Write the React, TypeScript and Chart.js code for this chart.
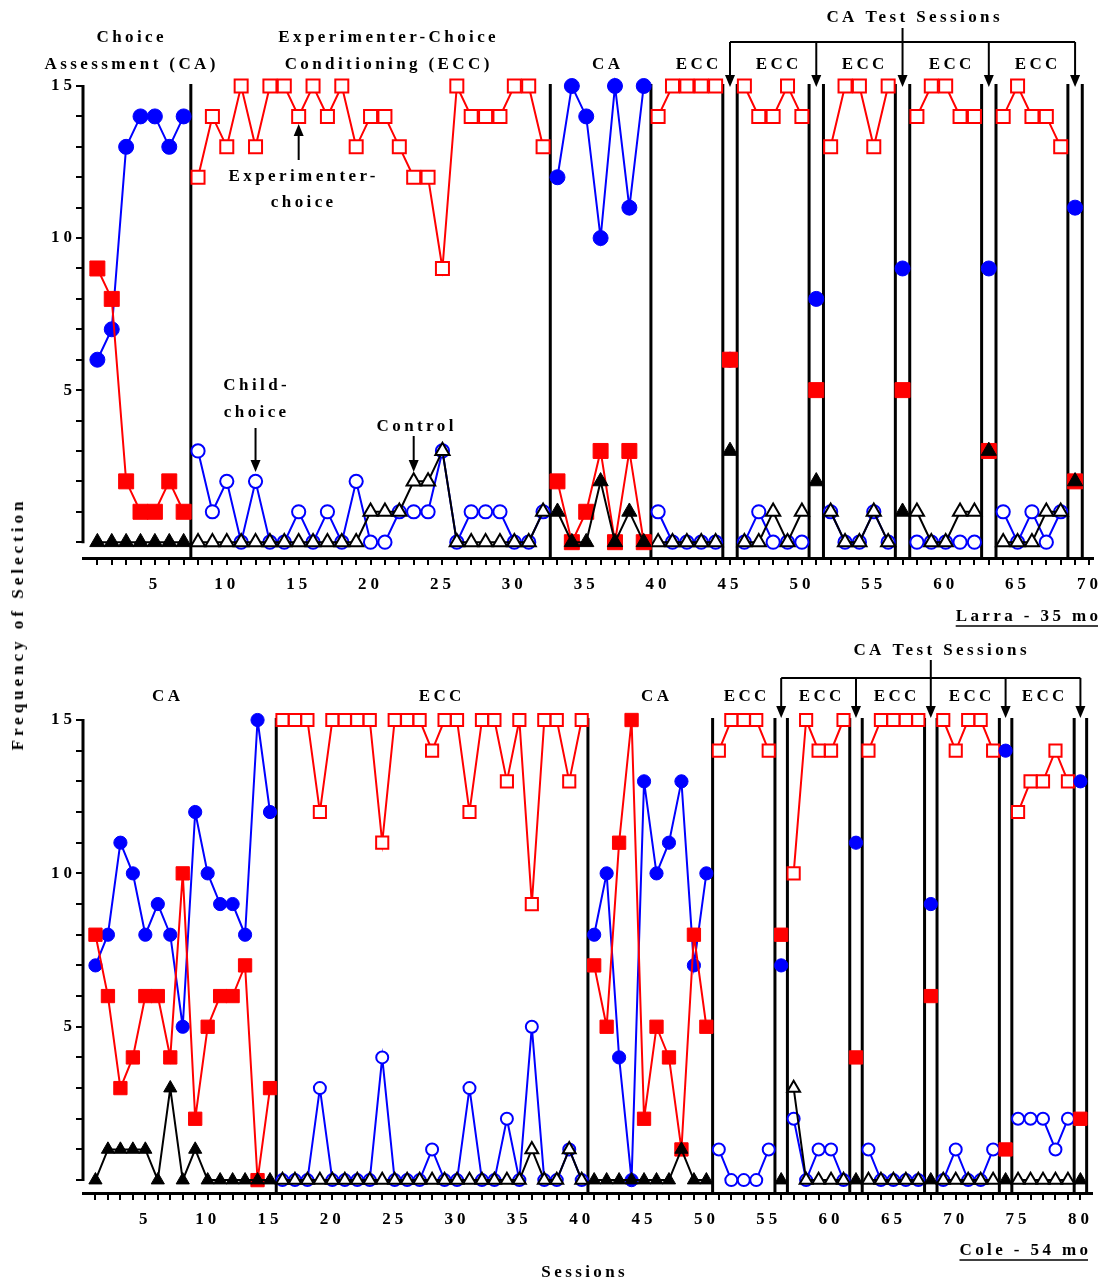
import React, { useEffect, useRef } from "react";
import { Chart, registerables } from "chart.js";

Chart.register(...registerables);

const FONT = "'Liberation Serif', 'Times New Roman', serif";
const BLUE = "#0000ff";
const RED = "#ff0000";
const BLACK = "#000000";

// ===================== Larra - 35 mo (top panel) =====================
// Choice Assessment (CA) phases: item A = blue filled circle, item B = red filled square, control = black filled triangle
const LARRA_CA1_START = 1;
const LARRA_CA1_A = [6, 7, 13, 14, 14, 13, 14];
const LARRA_CA1_B = [9, 8, 2, 1, 1, 2, 1];
const LARRA_CA1_CTRL = [0, 0, 0, 0, 0, 0, 0];
const LARRA_CA2_START = 33;
const LARRA_CA2_A = [12, 15, 14, 10, 15, 11, 15];
const LARRA_CA2_B = [2, 0, 1, 3, 0, 3, 0];
const LARRA_CA2_CTRL = [1, 0, 0, 2, 0, 1, 0];
const LARRA_TEST_SESSIONS = [45, 51, 57, 63, 69];
const LARRA_TEST_A = [6, 8, 9, 9, 11];
const LARRA_TEST_B = [6, 5, 5, 3, 2];
const LARRA_TEST_CTRL = [3, 2, 1, 3, 2];
// ECC phases: experimenter-choice = red open square, child-choice = blue open circle, control = black open triangle
const LARRA_ECC_STARTS = [8, 40, 46, 52, 58, 64];
const LARRA_ECC1_EXP = [12, 14, 13, 15, 13, 15, 15, 14, 15, 14, 15, 13, 14, 14, 13, 12, 12, 9, 15, 14, 14, 14, 15, 15, 13];
const LARRA_ECC1_CHILD = [3, 1, 2, 0, 2, 0, 0, 1, 0, 1, 0, 2, 0, 0, 1, 1, 1, 3, 0, 1, 1, 1, 0, 0, 1];
const LARRA_ECC1_CTRL = [0, 0, 0, 0, 0, 0, 0, 0, 0, 0, 0, 0, 1, 1, 1, 2, 2, 3, 0, 0, 0, 0, 0, 0, 1];
const LARRA_ECC2_EXP = [14, 15, 15, 15, 15];
const LARRA_ECC2_CHILD = [1, 0, 0, 0, 0];
const LARRA_ECC2_CTRL = [0, 0, 0, 0, 0];
const LARRA_ECC3_EXP = [15, 14, 14, 15, 14];
const LARRA_ECC3_CHILD = [0, 1, 0, 0, 0];
const LARRA_ECC3_CTRL = [0, 0, 1, 0, 1];
const LARRA_ECC4_EXP = [13, 15, 15, 13, 15];
const LARRA_ECC4_CHILD = [1, 0, 0, 1, 0];
const LARRA_ECC4_CTRL = [1, 0, 0, 1, 0];
const LARRA_ECC5_EXP = [14, 15, 15, 14, 14];
const LARRA_ECC5_CHILD = [0, 0, 0, 0, 0];
const LARRA_ECC5_CTRL = [1, 0, 0, 1, 1];
const LARRA_ECC6_EXP = [14, 15, 14, 14, 13];
const LARRA_ECC6_CHILD = [1, 0, 1, 0, 1];
const LARRA_ECC6_CTRL = [0, 0, 0, 1, 1];
const LARRA_PHASE_LINES = [7.5, 32.5, 39.5, 44.5, 45.5, 50.5, 51.5, 56.5, 57.5, 62.5, 63.5, 68.5, 69.5];

// ===================== Cole - 54 mo (bottom panel) =====================
const COLE_CA1_START = 1;
const COLE_CA1_A = [7, 8, 11, 10, 8, 9, 8, 5, 12, 10, 9, 9, 8, 15, 12];
const COLE_CA1_B = [8, 6, 3, 4, 6, 6, 4, 10, 2, 5, 6, 6, 7, 0, 3];
const COLE_CA1_CTRL = [0, 1, 1, 1, 1, 0, 3, 0, 1, 0, 0, 0, 0, 0, 0];
const COLE_CA2_START = 41;
const COLE_CA2_A = [8, 10, 4, 0, 13, 10, 11, 13, 7, 10];
const COLE_CA2_B = [7, 5, 11, 15, 2, 5, 4, 1, 8, 5];
const COLE_CA2_CTRL = [0, 0, 0, 0, 0, 0, 0, 1, 0, 0];
const COLE_TEST_SESSIONS = [56, 62, 68, 74, 80];
const COLE_TEST_A = [7, 11, 9, 14, 13];
const COLE_TEST_B = [8, 4, 6, 1, 2];
const COLE_TEST_CTRL = [0, 0, 0, 0, 0];
const COLE_ECC_STARTS = [16, 51, 57, 63, 69, 75];
const COLE_ECC1_EXP = [15, 15, 15, 12, 15, 15, 15, 15, 11, 15, 15, 15, 14, 15, 15, 12, 15, 15, 13, 15, 9, 15, 15, 13, 15];
const COLE_ECC1_CHILD = [0, 0, 0, 3, 0, 0, 0, 0, 4, 0, 0, 0, 1, 0, 0, 3, 0, 0, 2, 0, 5, 0, 0, 1, 0];
const COLE_ECC1_CTRL = [0, 0, 0, 0, 0, 0, 0, 0, 0, 0, 0, 0, 0, 0, 0, 0, 0, 0, 0, 0, 1, 0, 0, 1, 0];
const COLE_ECC2_EXP = [14, 15, 15, 15, 14];
const COLE_ECC2_CHILD = [1, 0, 0, 0, 1];
const COLE_ECC3_EXP = [10, 15, 14, 14, 15];
const COLE_ECC3_CHILD = [2, 0, 1, 1, 0];
const COLE_ECC3_CTRL = [3, 0, 0, 0, 0];
const COLE_ECC4_EXP = [14, 15, 15, 15, 15];
const COLE_ECC4_CHILD = [1, 0, 0, 0, 0];
const COLE_ECC4_CTRL = [0, 0, 0, 0, 0];
const COLE_ECC5_EXP = [15, 14, 15, 15, 14];
const COLE_ECC5_CHILD = [0, 1, 0, 0, 1];
const COLE_ECC5_CTRL = [0, 0, 0, 0, 0];
const COLE_ECC6_EXP = [12, 13, 13, 14, 13];
const COLE_ECC6_CHILD = [2, 2, 2, 1, 2];
const COLE_ECC6_CTRL = [0, 0, 0, 0, 0];
const COLE_PHASE_LINES = [15.5, 40.5, 50.5, 55.5, 56.5, 61.5, 62.5, 67.5, 68.5, 73.5, 74.5, 79.5, 80.5];

// ===================== helpers =====================
type Seg = { start: number; values: number[] };
const seg = (start: number, values: number[]): Seg => ({ start, values });
const singles = (sessions: number[], values: number[]): Seg[] =>
  sessions.map((s, i) => seg(s, [values[i]]));

function toPoints(segs: Seg[]) {
  const out: { x: number; y: number | null }[] = [];
  segs.forEach((s, i) => {
    if (i > 0) out.push({ x: s.start - 0.5, y: null });
    s.values.forEach((v, j) => out.push({ x: s.start + j, y: v }));
  });
  return out;
}

type Txt = { text: string; x: number; y: number; align?: CanvasTextAlign; underline?: boolean };
type Arrow = { session: number; from: number; to: number };
type Bracket = { sessions: number[]; barY: number; tipY: number; stemSession: number; stemTop: number };
type Sizes = { circle: number; square: number; tri: number; oCircle: number; oSquare: number; oTri: number };

interface PanelSpec {
  name: string;
  pageTop: number;
  width: number;
  height: number;
  area: { left: number; right: number; top: number; bottom: number };
  xMax: number;
  yMin: number;
  xTickCount: number;
  filledA: Seg[];
  filledB: Seg[];
  filledCtrl: Seg[];
  openExp: Seg[];
  openChild: Seg[];
  openCtrl: Seg[];
  phaseLines: number[];
  texts: Txt[];
  arrows: Arrow[];
  bracket: Bracket;
  sizes: Sizes;
}

const LARRA_SPEC: PanelSpec = {
  name: "larra",
  pageTop: 0,
  width: 1107,
  height: 640,
  area: { left: 83, right: 1097, top: 86, bottom: 558 },
  xMax: 70.27,
  yMin: -0.52,
  xTickCount: 70,
  filledA: [seg(LARRA_CA1_START, LARRA_CA1_A), seg(LARRA_CA2_START, LARRA_CA2_A), ...singles(LARRA_TEST_SESSIONS, LARRA_TEST_A)],
  filledB: [seg(LARRA_CA1_START, LARRA_CA1_B), seg(LARRA_CA2_START, LARRA_CA2_B), ...singles(LARRA_TEST_SESSIONS, LARRA_TEST_B)],
  filledCtrl: [seg(LARRA_CA1_START, LARRA_CA1_CTRL), seg(LARRA_CA2_START, LARRA_CA2_CTRL), ...singles(LARRA_TEST_SESSIONS, LARRA_TEST_CTRL)],
  openExp: [LARRA_ECC1_EXP, LARRA_ECC2_EXP, LARRA_ECC3_EXP, LARRA_ECC4_EXP, LARRA_ECC5_EXP, LARRA_ECC6_EXP].map((v, i) => seg(LARRA_ECC_STARTS[i], v)),
  openChild: [LARRA_ECC1_CHILD, LARRA_ECC2_CHILD, LARRA_ECC3_CHILD, LARRA_ECC4_CHILD, LARRA_ECC5_CHILD, LARRA_ECC6_CHILD].map((v, i) => seg(LARRA_ECC_STARTS[i], v)),
  openCtrl: [LARRA_ECC1_CTRL, LARRA_ECC2_CTRL, LARRA_ECC3_CTRL, LARRA_ECC4_CTRL, LARRA_ECC5_CTRL, LARRA_ECC6_CTRL].map((v, i) => seg(LARRA_ECC_STARTS[i], v)),
  phaseLines: LARRA_PHASE_LINES,
  texts: [
    { text: "Choice", x: 130, y: 38 },
    { text: "Assessment (CA)", x: 130, y: 65 },
    { text: "Experimenter-Choice", x: 387, y: 38 },
    { text: "Conditioning (ECC)", x: 387, y: 65 },
    { text: "Experimenter-", x: 302, y: 177 },
    { text: "choice", x: 302, y: 203 },
    { text: "Child-", x: 255, y: 386 },
    { text: "choice", x: 255, y: 413 },
    { text: "Control", x: 415, y: 427 },
    { text: "CA", x: 606, y: 65 },
    { text: "ECC", x: 697, y: 65 },
    { text: "ECC", x: 777, y: 65 },
    { text: "ECC", x: 863, y: 65 },
    { text: "ECC", x: 950, y: 65 },
    { text: "ECC", x: 1036, y: 65 },
    { text: "CA Test Sessions", x: 913, y: 18 },
    { text: "Larra - 35 mo", x: 1098, y: 617, align: "right", underline: true },
  ],
  arrows: [
    { session: 15, from: 160, to: 124 },
    { session: 12, from: 428, to: 472 },
    { session: 23, from: 436, to: 472 },
  ],
  bracket: { sessions: LARRA_TEST_SESSIONS, barY: 42, tipY: 87, stemSession: 57, stemTop: 28 },
  sizes: { circle: 7.5, square: 10.6, tri: 8.8, oCircle: 6.6, oSquare: 9.2, oTri: 8.2 },
};

const COLE_SPEC: PanelSpec = {
  name: "cole",
  pageTop: 640,
  width: 1107,
  height: 645,
  area: { left: 83, right: 1092, top: 80, bottom: 553 },
  xMax: 80.93,
  yMin: -0.42,
  xTickCount: 80,
  filledA: [seg(COLE_CA1_START, COLE_CA1_A), seg(COLE_CA2_START, COLE_CA2_A), ...singles(COLE_TEST_SESSIONS, COLE_TEST_A)],
  filledB: [seg(COLE_CA1_START, COLE_CA1_B), seg(COLE_CA2_START, COLE_CA2_B), ...singles(COLE_TEST_SESSIONS, COLE_TEST_B)],
  filledCtrl: [seg(COLE_CA1_START, COLE_CA1_CTRL), seg(COLE_CA2_START, COLE_CA2_CTRL), ...singles(COLE_TEST_SESSIONS, COLE_TEST_CTRL)],
  openExp: [COLE_ECC1_EXP, COLE_ECC2_EXP, COLE_ECC3_EXP, COLE_ECC4_EXP, COLE_ECC5_EXP, COLE_ECC6_EXP].map((v, i) => seg(COLE_ECC_STARTS[i], v)),
  openChild: [COLE_ECC1_CHILD, COLE_ECC2_CHILD, COLE_ECC3_CHILD, COLE_ECC4_CHILD, COLE_ECC5_CHILD, COLE_ECC6_CHILD].map((v, i) => seg(COLE_ECC_STARTS[i], v)),
  openCtrl: [
    seg(COLE_ECC_STARTS[0], COLE_ECC1_CTRL),
    seg(COLE_ECC_STARTS[2], COLE_ECC3_CTRL),
    seg(COLE_ECC_STARTS[3], COLE_ECC4_CTRL),
    seg(COLE_ECC_STARTS[4], COLE_ECC5_CTRL),
    seg(COLE_ECC_STARTS[5], COLE_ECC6_CTRL),
  ],
  phaseLines: COLE_PHASE_LINES,
  texts: [
    { text: "CA", x: 166, y: 57 },
    { text: "ECC", x: 440, y: 57 },
    { text: "CA", x: 655, y: 57 },
    { text: "ECC", x: 745, y: 57 },
    { text: "ECC", x: 820, y: 57 },
    { text: "ECC", x: 895, y: 57 },
    { text: "ECC", x: 970, y: 57 },
    { text: "ECC", x: 1043, y: 57 },
    { text: "CA Test Sessions", x: 940, y: 11 },
    { text: "Cole - 54 mo", x: 1088, y: 611, align: "right", underline: true },
    { text: "Sessions", x: 583, y: 633 },
  ],
  arrows: [],
  bracket: { sessions: COLE_TEST_SESSIONS, barY: 38, tipY: 78, stemSession: 68, stemTop: 20 },
  sizes: { circle: 6.6, square: 9.4, tri: 7.6, oCircle: 6.0, oSquare: 8.6, oTri: 7.4 },
};

const TEXT_SPACING = 3.4;

function drawArrowHead(ctx: CanvasRenderingContext2D, x: number, tipY: number, dir: 1 | -1) {
  // dir 1 = pointing down, -1 = pointing up
  ctx.beginPath();
  ctx.moveTo(x, tipY);
  ctx.lineTo(x - 5, tipY - dir * 12);
  ctx.lineTo(x + 5, tipY - dir * 12);
  ctx.closePath();
  ctx.fill();
}

function makeDecorPlugin(spec: PanelSpec) {
  return {
    id: "decor_" + spec.name,
    beforeDraw(chart: any) {
      chart.ctx.letterSpacing = "4px";
    },
    beforeDatasetsDraw(chart: any) {
      const { ctx, chartArea, scales } = chart;
      const xs = scales.x;
      const ys = scales.y;
      ctx.save();
      ctx.strokeStyle = BLACK;
      ctx.lineWidth = 3;
      // y axis line (ends at 0, offset from x axis)
      ctx.beginPath();
      ctx.moveTo(chartArea.left, ys.getPixelForValue(15) - 1);
      ctx.lineTo(chartArea.left, ys.getPixelForValue(0) + 1);
      ctx.stroke();
      // phase change lines
      for (const p of spec.phaseLines) {
        const px = xs.getPixelForValue(p);
        ctx.beginPath();
        ctx.moveTo(px, chartArea.top - 2);
        ctx.lineTo(px, chartArea.bottom);
        ctx.stroke();
      }
      ctx.restore();
    },
    afterDraw(chart: any) {
      const { ctx, scales } = chart;
      const xs = scales.x;
      ctx.save();
      ctx.fillStyle = BLACK;
      ctx.strokeStyle = BLACK;
      ctx.font = `bold 17px ${FONT}`;
      ctx.letterSpacing = `${TEXT_SPACING}px`;
      ctx.textBaseline = "middle";
      for (const t of spec.texts) {
        const align = t.align || "center";
        ctx.textAlign = align;
        const shift = align === "center" ? TEXT_SPACING / 2 : align === "right" ? TEXT_SPACING : 0;
        ctx.fillText(t.text, t.x + shift, t.y);
        if (t.underline) {
          const w = ctx.measureText(t.text).width - TEXT_SPACING;
          const x0 = align === "right" ? t.x - w : align === "center" ? t.x - w / 2 : t.x;
          ctx.lineWidth = 1.5;
          ctx.beginPath();
          ctx.moveTo(x0, t.y + 9);
          ctx.lineTo(x0 + w, t.y + 9);
          ctx.stroke();
        }
      }
      // annotation arrows
      ctx.lineWidth = 2;
      for (const a of spec.arrows) {
        const px = xs.getPixelForValue(a.session);
        const dir: 1 | -1 = a.to > a.from ? 1 : -1;
        ctx.beginPath();
        ctx.moveTo(px, a.from);
        ctx.lineTo(px, a.to - dir * 10);
        ctx.stroke();
        drawArrowHead(ctx, px, a.to, dir);
      }
      // CA test sessions bracket
      const b = spec.bracket;
      const bx = b.sessions.map((s) => xs.getPixelForValue(s));
      ctx.lineWidth = 2;
      ctx.beginPath();
      ctx.moveTo(bx[0], b.barY);
      ctx.lineTo(bx[bx.length - 1], b.barY);
      ctx.stroke();
      for (const px of bx) {
        ctx.beginPath();
        ctx.moveTo(px, b.barY);
        ctx.lineTo(px, b.tipY - 10);
        ctx.stroke();
        drawArrowHead(ctx, px, b.tipY, 1);
      }
      const sx = xs.getPixelForValue(b.stemSession);
      ctx.beginPath();
      ctx.moveTo(sx, b.stemTop);
      ctx.lineTo(sx, b.barY);
      ctx.stroke();
      ctx.restore();
    },
  };
}

function buildConfig(spec: PanelSpec): any {
  const s = spec.sizes;
  const ds = (label: string, segs: Seg[], color: string, fill: string, shape: string, r: number, bw: number, order: number) => ({
    label,
    data: toPoints(segs),
    order,
    clip: false,
    spanGaps: false,
    tension: 0,
    borderColor: color,
    backgroundColor: color,
    borderWidth: 2,
    pointStyle: shape,
    pointRadius: r,
    pointHoverRadius: r,
    pointBackgroundColor: fill,
    pointBorderColor: color,
    pointBorderWidth: bw,
  });
  const datasets = [
    ds("Control (CA)", spec.filledCtrl, BLACK, BLACK, "triangle", s.tri, 1, 1),
    ds("Item B (CA)", spec.filledB, RED, RED, "rect", s.square, 1, 2),
    ds("Item A (CA)", spec.filledA, BLUE, BLUE, "circle", s.circle, 1, 3),
    ds("Control (ECC)", spec.openCtrl, BLACK, "#ffffff", "triangle", s.oTri, 2, 4),
    ds("Child-choice (ECC)", spec.openChild, BLUE, "#ffffff", "circle", s.oCircle, 2, 5),
    ds("Experimenter-choice (ECC)", spec.openExp, RED, "#ffffff", "rect", s.oSquare, 2, 6),
  ];
  const xTicks = Array.from({ length: spec.xTickCount }, (_, i) => i + 1);
  const yTicks = Array.from({ length: 16 }, (_, i) => i);
  const tickFont = { family: FONT, weight: "bold", size: 17 };
  return {
    type: "line",
    data: { datasets },
    plugins: [makeDecorPlugin(spec)],
    options: {
      responsive: false,
      animation: false,
      events: [],
      devicePixelRatio: 1,
      layout: {
        padding: { left: 0, top: spec.area.top, right: spec.width - spec.area.right, bottom: 0 },
      },
      plugins: { legend: { display: false }, tooltip: { enabled: false }, title: { display: false } },
      scales: {
        x: {
          type: "linear",
          min: 0,
          max: spec.xMax,
          afterFit: (scale: any) => {
            scale.height = spec.height - spec.area.bottom;
          },
          afterBuildTicks: (scale: any) => {
            scale.ticks = xTicks.map((v) => ({ value: v }));
          },
          grid: { drawOnChartArea: false, drawTicks: true, tickLength: 7, color: BLACK, lineWidth: 2 },
          border: { display: true, color: BLACK, width: 3 },
          ticks: {
            autoSkip: false,
            maxRotation: 0,
            minRotation: 0,
            padding: 9,
            color: BLACK,
            font: tickFont,
            callback: (v: number) => (v % 5 === 0 ? String(v) : ""),
          },
        },
        y: {
          type: "linear",
          min: spec.yMin,
          max: 15,
          afterFit: (scale: any) => {
            scale.width = spec.area.left;
          },
          afterBuildTicks: (scale: any) => {
            scale.ticks = yTicks.map((v) => ({ value: v }));
          },
          grid: { drawOnChartArea: false, drawTicks: true, tickLength: 7, color: BLACK, lineWidth: 2 },
          border: { display: false },
          ticks: {
            autoSkip: false,
            padding: 0,
            color: BLACK,
            font: tickFont,
            callback: (v: number) => (v > 0 && v % 5 === 0 ? String(v) : ""),
          },
        },
      },
    },
  };
}

function Panel({ spec }: { spec: PanelSpec }) {
  const ref = useRef<HTMLCanvasElement>(null);
  useEffect(() => {
    if (!ref.current) return;
    const chart = new Chart(ref.current, buildConfig(spec));
    return () => chart.destroy();
  }, [spec]);
  return (
    <canvas
      ref={ref}
      width={spec.width}
      height={spec.height}
      style={{ position: "absolute", left: 0, top: spec.pageTop, width: spec.width, height: spec.height }}
    />
  );
}

export default function App() {
  return (
    <div style={{ position: "absolute", left: 0, top: 0, width: 1107, height: 1285, background: "#ffffff", overflow: "hidden" }}>
      <Panel spec={LARRA_SPEC} />
      <Panel spec={COLE_SPEC} />
      <div
        style={{
          position: "absolute",
          left: 18,
          top: 624,
          transform: "translate(-50%, -50%) rotate(-90deg)",
          fontFamily: FONT,
          fontWeight: "bold",
          fontSize: 17,
          letterSpacing: "4px",
          whiteSpace: "nowrap",
          color: "#000",
          lineHeight: "20px",
        }}
      >
        Frequency of Selection
      </div>
    </div>
  );
}
